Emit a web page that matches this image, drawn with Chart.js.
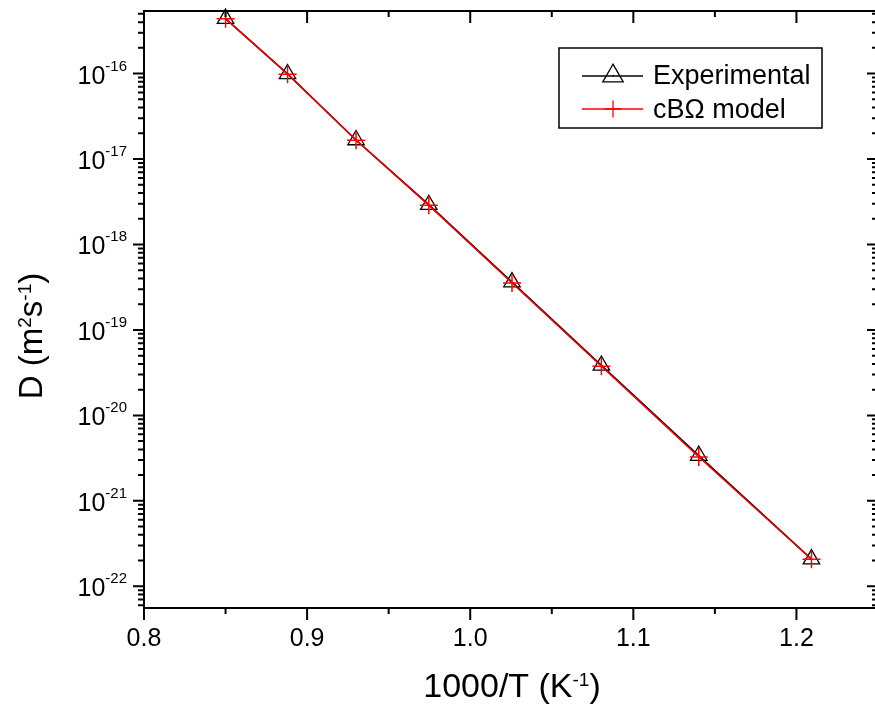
<!DOCTYPE html>
<html>
<head>
<meta charset="utf-8">
<title>Diffusion coefficient vs 1000/T</title>
<script src="https://cdn.jsdelivr.net/npm/chart.js@4.4.1/dist/chart.umd.min.js"></script>
<style>
  html, body { margin: 0; padding: 0; background: #fff; overflow: hidden; }
  #wrap { width: 878px; height: 713px; }
</style>
</head>
<body>
<div id="wrap"><canvas id="chart" width="878" height="713"></canvas></div>
<script>
// ── Data ────────────────────────────────────────────────────────────────────

const invT          = [0.850, 0.888, 0.930, 0.9746, 1.0256, 1.0804, 1.1401, 1.2092];
const dExperimental = [4.40e-16, 9.9e-17, 1.67e-17, 2.92e-18, 3.63e-19, 3.84e-20, 3.39e-21, 2.08e-22];
const dModel        = [4.37e-16, 9.8e-17, 1.66e-17, 2.87e-18, 3.54e-19, 3.76e-20, 3.26e-21, 2.07e-22];
const seriesLabels  = ["Experimental", "cBΩ model"];

const xTickValues = [0.8, 0.9, 1.0, 1.1, 1.2];
const xTickLabels = ["0.8", "0.9", "1.0", "1.1", "1.2"];
const yDecades    = [-16, -17, -18, -19, -20, -21, -22];

const X_MIN = 0.8, X_MAX = 1.25;
const Y_MIN = 5.57e-23, Y_MAX = 5.4e-16;

const FONT = "'Liberation Sans', Arial, Helvetica, sans-serif";
const font = px => `${px}px ${FONT}`;

// a "run" is a list of [text, size, raise] pieces (used for superscripts)
function runWidth(ctx, parts) {
  let w = 0;
  for (const [t, s] of parts) { ctx.font = font(s); w += ctx.measureText(t).width; }
  return w;
}
function drawRun(ctx, parts, x, y) {
  for (const [t, s, raise] of parts) {
    ctx.font = font(s);
    ctx.fillText(t, x, y - raise);
    x += ctx.measureText(t).width;
  }
}

// ── Origin-style frame, ticks, labels and legend ────────────────────────────

const originFrame = {
  id: "originFrame",
  afterDatasetsDraw(chart) {
    const { ctx, chartArea: a, scales: { x, y } } = chart;
    ctx.save();
    ctx.strokeStyle = "#000";
    ctx.fillStyle = "#000";
    ctx.lineWidth = 2;
    ctx.strokeRect(a.left, a.top, a.right - a.left, a.bottom - a.top);

    // x ticks: bottom outward, top inward
    ctx.beginPath();
    for (let i = 0; i <= 9; i++) {
      const px = x.getPixelForValue(X_MIN + i * 0.05);
      const len = i % 2 === 0 ? 12 : 6;
      ctx.moveTo(px, a.bottom); ctx.lineTo(px, a.bottom + len);
      ctx.moveTo(px, a.top);    ctx.lineTo(px, a.top + len);
    }
    // y ticks: left outward, right inward
    for (let e = -23; e <= -16; e++) {
      for (let k = 1; k <= 9; k++) {
        const v = k * Math.pow(10, e);
        if (v < Y_MIN || v > Y_MAX) continue;
        const py = y.getPixelForValue(v);
        const len = k === 1 ? 11 : 6;
        ctx.moveTo(a.left, py);  ctx.lineTo(a.left - len, py);
        ctx.moveTo(a.right, py); ctx.lineTo(a.right - len, py);
      }
    }
    ctx.stroke();

    // tick labels
    ctx.textBaseline = "alphabetic";
    ctx.textAlign = "center";
    ctx.font = font(25);
    xTickValues.forEach((v, i) => {
      ctx.fillText(xTickLabels[i], x.getPixelForValue(v), a.bottom + 38);
    });
    ctx.textAlign = "left";
    yDecades.forEach(e => {
      const py = y.getPixelForValue(Math.pow(10, e));
      const parts = [["10", 25, 0], [String(e), 15, 13]];
      const w = runWidth(ctx, parts);
      drawRun(ctx, parts, a.left - 17 - w, py + 10);
    });

    // axis titles
    const xt = [["1000/T (K", 34, 0], ["-1", 19, 11], [")", 34, 0]];
    const xw = runWidth(ctx, xt);
    drawRun(ctx, xt, (a.left + a.right) / 2 + 1 - xw / 2, 697);

    const yt = [["D (m", 33, 0], ["2", 19, 11], ["s", 33, 0], ["-1", 19, 11], [")", 33, 0]];
    const yw = runWidth(ctx, yt);
    ctx.save();
    ctx.translate(42, 336);
    ctx.rotate(-Math.PI / 2);
    drawRun(ctx, yt, -yw / 2, 0);
    ctx.restore();

    // legend
    ctx.lineWidth = 1.5;
    ctx.fillStyle = "#fff";
    ctx.fillRect(559, 48, 263, 80);
    ctx.strokeRect(559, 48, 263, 80);
    const rows = [
      { ds: chart.data.datasets[1], cy: 76,  base: 84,  r: 11.8 },
      { ds: chart.data.datasets[0], cy: 109, base: 118, r: 8.5 }
    ];
    rows.forEach(row => {
      ctx.strokeStyle = row.ds.borderColor;
      ctx.lineWidth = 1.3;
      ctx.beginPath();
      ctx.moveTo(582, row.cy); ctx.lineTo(643, row.cy);
      ctx.stroke();
      ctx.fillStyle = "rgba(0,0,0,0)";
      ctx.strokeStyle = row.ds.pointBorderColor;
      Chart.helpers.drawPoint(ctx, {
        pointStyle: row.ds.pointStyle, radius: row.r, rotation: 0,
        borderWidth: row.ds.pointBorderWidth
      }, 613, row.cy);
      ctx.fillStyle = "#000";
      ctx.font = font(27);
      ctx.fillText(row.ds.label, 653, row.base);
    });
    ctx.fillRect(612.5, 75, 1.5, 1.5);
    ctx.restore();
  }
};

// ── Chart ───────────────────────────────────────────────────────────────────

const toPoints = vals => vals.map((v, i) => ({ x: invT[i], y: v }));

new Chart(document.getElementById("chart"), {
  type: "scatter",
  data: {
    datasets: [
      {
        label: seriesLabels[1],
        data: toPoints(dModel),
        showLine: true,
        borderColor: "#ff0000",
        borderWidth: 1.4,
        pointStyle: "cross",
        pointRadius: 9,
        pointBorderColor: "#ff0000",
        pointBorderWidth: 1.5,
        pointBackgroundColor: "rgba(0,0,0,0)",
        clip: false,
        order: 0
      },
      {
        label: seriesLabels[0],
        data: toPoints(dExperimental),
        showLine: true,
        borderColor: "#000000",
        borderWidth: 1.6,
        pointStyle: "triangle",
        pointRadius: 9.5,
        pointBorderColor: "#000000",
        pointBorderWidth: 1.3,
        pointBackgroundColor: "rgba(0,0,0,0)",
        clip: false,
        order: 1
      }
    ]
  },
  options: {
    responsive: false,
    devicePixelRatio: 1,
    animation: false,
    layout: { autoPadding: false, padding: { left: 144, top: 11, right: 0, bottom: 105 } },
    plugins: { legend: { display: false }, tooltip: { enabled: false } },
    scales: {
      x: { type: "linear", min: X_MIN, max: X_MAX, display: false },
      y: { type: "logarithmic", min: Y_MIN, max: Y_MAX, display: false }
    }
  },
  plugins: [originFrame]
});
</script>
</body>
</html>
